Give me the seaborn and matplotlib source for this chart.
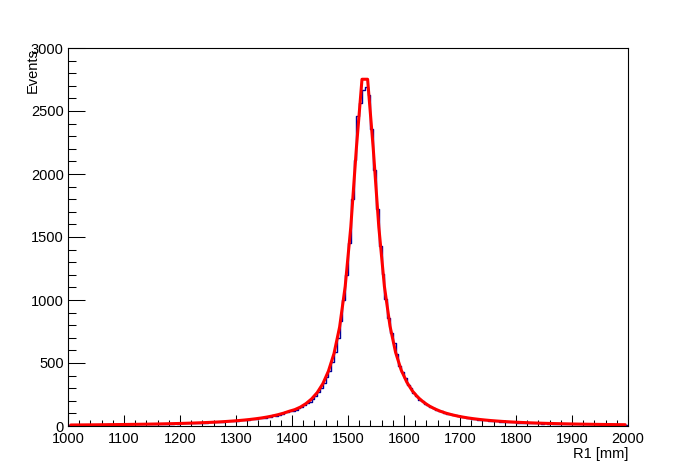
import numpy as np
import pandas as pd
import matplotlib
matplotlib.use("Agg")
import matplotlib.pyplot as plt
from matplotlib.ticker import MultipleLocator
import seaborn as sns

# histogram: 200 bins of 5 mm from 1000 to 2000 mm
bin_edges = np.arange(1000, 2001, 5)
counts = [
    # 1000-1050
    8, 9, 7, 9, 8, 10, 9, 8, 10, 9,
    # 1050-1100
    10, 9, 11, 10, 12, 11, 10, 12, 11, 12,
    # 1100-1150
    12, 13, 12, 14, 13, 14, 13, 15, 14, 15,
    # 1150-1200
    15, 17, 16, 17, 18, 16, 19, 18, 20, 19,
    # 1200-1250
    20, 22, 21, 23, 22, 24, 25, 24, 26, 27,
    # 1250-1300
    28, 30, 29, 32, 34, 33, 36, 37, 39, 40,
    # 1300-1350
    41, 45, 44, 50, 49, 54, 53, 58, 62, 63,
    # 1350-1400
    66, 72, 75, 84, 83, 90, 97, 108, 112, 120,
    # 1400-1450
    122, 130, 146, 150, 165, 182, 188, 215, 240, 268,
    # 1450-1500
    300, 340, 385, 440, 505, 590, 700, 830, 1000, 1200,
    # 1500-1540
    1450, 1800, 2110, 2460, 2560, 2665, 2693, 2627,
    # 1540-1590
    2360, 2030, 1720, 1430, 1210, 1010, 860, 740, 660, 575,
    # 1590-1640
    480, 430, 380, 325, 300, 262, 236, 210, 200, 178,
    # 1640-1690
    168, 150, 145, 128, 118, 116, 104, 98, 95, 88,
    # 1690-1740
    85, 80, 74, 70, 64, 63, 57, 52, 50, 49,
    # 1740-1790
    48, 44, 41, 42, 37, 36, 33, 35, 31, 30,
    # 1790-1840
    28, 30, 26, 24, 27, 23, 22, 25, 21, 20,
    # 1840-1890
    22, 19, 21, 18, 20, 17, 19, 16, 18, 17,
    # 1890-1940
    15, 18, 16, 14, 15, 13, 16, 14, 12, 13,
    # 1940-1990
    12, 14, 11, 13, 12, 10, 12, 11, 10, 9,
    # 1990-2000
    11, 8,
]
bin_centers = (bin_edges[:-1] + bin_edges[1:]) / 2

# fit curve, read at 10 mm steps
fit_x = np.arange(1005, 2000, 10)
fit_y = [
    8.1, 8.4, 8.7, 9.1, 9.4, 9.8, 10.3, 10.7, 11.2, 11.7,
    12.3, 12.9, 13.5, 14.2, 14.9, 15.7, 16.6, 17.6, 18.6, 19.7,
    20.9, 22.3, 23.7, 25.4, 27.2, 29.1, 31.3, 33.8, 36.6, 39.8,
    43.3, 47.4, 52.0, 57.4, 63.5, 70.9, 79.5, 89.8, 102, 117,
    130, 150, 178, 215, 265, 335, 435, 575, 785, 1108,
    1580, 2207, 2752, 2752, 2207, 1580, 1108, 793, 584, 444,
    348, 278, 227, 189, 159, 136, 117, 102, 89.8, 79.5,
    70.9, 63.5, 57.4, 52.0, 47.4, 43.3, 39.8, 36.6, 33.8, 31.3,
    29.1, 27.2, 25.4, 23.7, 22.3, 20.9, 19.7, 18.6, 17.6, 16.6,
    15.7, 14.9, 14.2, 13.5, 12.9, 12.3, 11.7, 11.2, 10.7, 10.3,
]

hist_df = pd.DataFrame({"R1": bin_centers, "Events": counts})
fit_df = pd.DataFrame({"R1": fit_x, "Events": fit_y})

sns.set_style("ticks")
plt.rcParams['font.family'] = ['Liberation Sans', 'DejaVu Sans']
plt.rcParams['text.color'] = 'black'
plt.rcParams['axes.labelcolor'] = 'black'
plt.rcParams['xtick.color'] = 'black'
plt.rcParams['ytick.color'] = 'black'

fig = plt.figure(figsize=(6.98, 4.74), dpi=100)
ax = fig.add_axes([68/698, 1 - 426/474, 560/698, 378/474])

sns.histplot(data=hist_df, x="R1", weights="Events", binwidth=5,
             binrange=(1000, 2000), element="step", fill=False,
             color="#000099", linewidth=1.0, ax=ax)
sns.lineplot(data=fit_df, x="R1", y="Events", color="#ff0000",
             linewidth=2.2, ax=ax)

ax.set_xlim(1000, 2000)
ax.set_ylim(0, 3000)
ax.xaxis.set_major_locator(MultipleLocator(100))
ax.xaxis.set_minor_locator(MultipleLocator(20))
ax.yaxis.set_major_locator(MultipleLocator(500))
ax.yaxis.set_minor_locator(MultipleLocator(100))

for s in ax.spines.values():
    s.set_visible(True)
    s.set_linewidth(0.8)
    s.set_color("black")

ax.tick_params(axis="x", which="major", direction="in", length=8.1, width=0.75,
               labelsize=10.5, pad=4, top=False, colors="black")
ax.tick_params(axis="x", which="minor", direction="in", length=4.1, width=0.75,
               top=False, colors="black")
ax.tick_params(axis="y", which="major", direction="in", length=12.1, width=0.75,
               labelsize=10.5, pad=3, right=False, colors="black")
ax.tick_params(axis="y", which="minor", direction="in", length=6, width=0.75,
               right=False, colors="black")

ax.set_xlabel("R1 [mm]", loc="right", fontsize=10.5, labelpad=1, color="black")
ax.set_ylabel("Events", loc="top", fontsize=10.5, labelpad=-6, color="black")

fig.savefig("out.png", dpi=100)
